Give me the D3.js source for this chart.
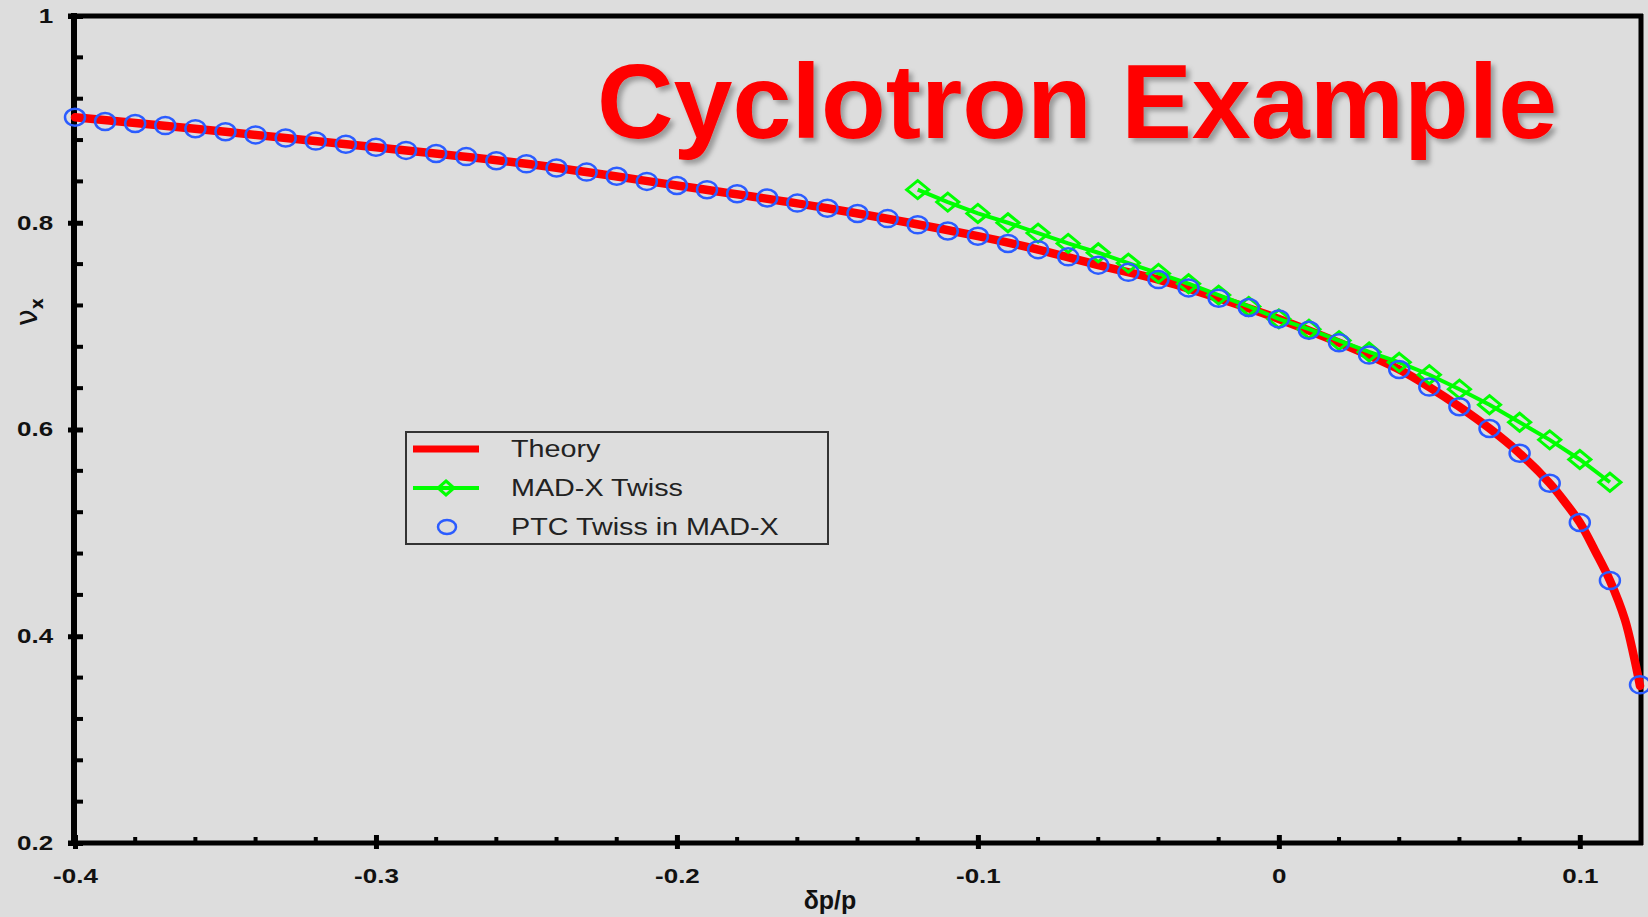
<!DOCTYPE html>
<html lang="en">
<head>
    <meta charset="UTF-8">
    <title>Cyclotron Example</title>
    <style>
        body { margin: 0; overflow: hidden; background: #dddddd; }
        svg { display: block; }
        .tick text { font-family: "Liberation Sans", Arial, sans-serif; font-weight: bold; font-size: 20px; fill: #111; }
    </style>
    <script src="https://d3js.org/d3.v7.min.js"></script>
</head>
<body>
<svg id="chart" width="1648" height="917"></svg>
<script>
        const width = 1648;
        const height = 917;

        // PTC Twiss in MAD-X (blue circles)
        const ptcDp = [-0.40, -0.39, -0.38, -0.37, -0.36, -0.35, -0.34, -0.33, -0.32, -0.31,
                       -0.30, -0.29, -0.28, -0.27, -0.26, -0.25, -0.24, -0.23, -0.22, -0.21,
                       -0.20, -0.19, -0.18, -0.17, -0.16, -0.15, -0.14, -0.13, -0.12, -0.11,
                       -0.10, -0.09, -0.08, -0.07, -0.06, -0.05, -0.04, -0.03, -0.02, -0.01,
                       0.00, 0.01, 0.02, 0.03, 0.04, 0.05, 0.06, 0.07, 0.08, 0.09,
                       0.10, 0.11, 0.12];
        const ptcNu = [0.902, 0.898, 0.896, 0.894, 0.891, 0.888, 0.885, 0.882, 0.879, 0.876,
                       0.873, 0.870, 0.867, 0.864, 0.860, 0.857, 0.853, 0.849, 0.845, 0.840,
                       0.836, 0.832, 0.828, 0.824, 0.819, 0.814, 0.809, 0.804, 0.798, 0.792,
                       0.787, 0.780, 0.774, 0.767, 0.759, 0.752, 0.745, 0.737, 0.727, 0.718,
                       0.707, 0.696, 0.684, 0.672, 0.658, 0.641, 0.622, 0.601, 0.577, 0.548,
                       0.510, 0.454, 0.353];

        // MAD-X Twiss (green diamonds)
        const madxDp = [-0.12, -0.11, -0.10, -0.09, -0.08, -0.07, -0.06, -0.05, -0.04, -0.03,
                        -0.02, -0.01, 0.00, 0.01, 0.02, 0.03, 0.04, 0.05, 0.06, 0.07,
                        0.08, 0.09, 0.10, 0.11];
        const madxNu = [0.832, 0.820, 0.809, 0.800, 0.790, 0.780, 0.771, 0.761, 0.751, 0.741,
                        0.730, 0.719, 0.707, 0.697, 0.686, 0.675, 0.665, 0.653, 0.639, 0.624,
                        0.607, 0.590, 0.571, 0.549];

        // Theory curve (red)
        const theoryDp = [-0.40, -0.35, -0.30, -0.25, -0.20, -0.15, -0.10, -0.08, -0.06, -0.04,
                          -0.02, 0.00, 0.02, 0.04, 0.05, 0.06, 0.07, 0.08, 0.09, 0.095,
                          0.10, 0.105, 0.11, 0.115, 0.118, 0.12];
        const theoryNu = [0.902, 0.888, 0.873, 0.857, 0.836, 0.814, 0.787, 0.774, 0.759, 0.745,
                          0.727, 0.707, 0.684, 0.658, 0.641, 0.622, 0.601, 0.577, 0.548, 0.530,
                          0.510, 0.483, 0.454, 0.416, 0.380, 0.352];

        const xTicks = [-0.4, -0.3, -0.2, -0.1, 0, 0.1];
        const yTicks = [0.2, 0.4, 0.6, 0.8, 1];
        const legendLabels = ["Theory", "MAD-X Twiss", "PTC Twiss in MAD-X"];

        const svg = d3.select("#chart");
        const x = d3.scaleLinear().domain([-0.4, 0.12]).range([75, 1640]);
        const y = d3.scaleLinear().domain([0.2, 1]).range([843, 16]);
        const fmt = d => (d === 0 || d === 1) ? String(d) : d3.format(".1f")(d).replace("−", "-");

        const defs = svg.append("defs");
        defs.append("filter").attr("id", "shadow")
            .attr("x", "-5%").attr("y", "-10%").attr("width", "110%").attr("height", "130%")
            .append("feDropShadow")
            .attr("dx", 4).attr("dy", 4).attr("stdDeviation", 2.5)
            .attr("flood-color", "#000").attr("flood-opacity", 0.3);

        svg.append("rect").attr("width", width).attr("height", height).attr("fill", "#dddddd");

        // frame: top and right border
        svg.append("line").attr("x1", 68).attr("x2", 1643).attr("y1", 16).attr("y2", 16)
            .attr("stroke", "#000").attr("stroke-width", 5);
        svg.append("line").attr("x1", 1641).attr("x2", 1641).attr("y1", 14).attr("y2", 845)
            .attr("stroke", "#000").attr("stroke-width", 5);

        // minor ticks
        const xMinor = d3.range(-0.38, 0.12, 0.02).filter(v => Math.abs(v * 10 - Math.round(v * 10)) > 1e-6);
        const yMinor = d3.range(0.24, 1, 0.04).filter(v => Math.abs(v * 5 - Math.round(v * 5)) > 1e-6);

        svg.selectAll(".xminor").data(xMinor).enter().append("line")
            .attr("x1", d => x(d)).attr("x2", d => x(d))
            .attr("y1", 843).attr("y2", 837)
            .attr("stroke", "#000").attr("stroke-width", 4);
        svg.selectAll(".yminor").data(yMinor).enter().append("line")
            .attr("x1", 74).attr("x2", 83)
            .attr("y1", d => y(d)).attr("y2", d => y(d))
            .attr("stroke", "#000").attr("stroke-width", 4);

        const xAxis = svg.append("g").attr("transform", "translate(0,843)")
            .call(d3.axisBottom(x).tickValues(xTicks).tickFormat(fmt)
                .tickSizeInner(-8).tickSizeOuter(0).tickPadding(20));
        xAxis.select(".domain").attr("stroke-width", 5).attr("d", "M68,0H1643");
        xAxis.selectAll(".tick line").attr("stroke-width", 5).attr("y1", 6);
        xAxis.selectAll(".tick text").attr("dy", "1em").attr("transform", "scale(1.3,1)");

        const yAxis = svg.append("g").attr("transform", "translate(74,0)")
            .call(d3.axisLeft(y).tickValues(yTicks).tickFormat(fmt)
                .tickSizeInner(-9).tickSizeOuter(0).tickPadding(16));
        yAxis.select(".domain").attr("stroke-width", 6).attr("d", "M0,13V846");
        yAxis.selectAll(".tick line").attr("stroke-width", 5).attr("x1", -6);
        yAxis.selectAll(".tick text").attr("transform", "scale(1.3,1)");

        // axis titles
        svg.append("text").attr("x", 830).attr("y", 909).attr("text-anchor", "middle")
            .attr("font-family", "Liberation Sans, Arial, sans-serif").attr("font-weight", "bold")
            .attr("font-size", 25).attr("fill", "#111").text("δp/p");
        const yTitle = svg.append("text").attr("transform", "translate(37,326) rotate(-90)")
            .attr("font-family", "DejaVu Sans, sans-serif").attr("font-size", 30).attr("fill", "#111");
        yTitle.append("tspan").text("ν");
        yTitle.append("tspan").attr("font-size", 17).attr("font-weight", "bold").attr("dy", 6).text("x");

        // theory line
        const theory = theoryDp.map((d, i) => [d, theoryNu[i]]);
        svg.append("path").datum(theory)
            .attr("fill", "none").attr("stroke", "#ff0000").attr("stroke-width", 8.5)
            .attr("stroke-linecap", "round")
            .attr("d", d3.line().x(d => x(d[0])).y(d => y(d[1])).curve(d3.curveCatmullRom));

        // MAD-X line + diamonds
        const madx = madxDp.map((d, i) => [d, madxNu[i]]);
        svg.append("path").datum(madx)
            .attr("fill", "none").attr("stroke", "#00ff00").attr("stroke-width", 4)
            .attr("d", d3.line().x(d => x(d[0])).y(d => y(d[1])));
        const diamond = "M0,-9L11,0L0,9L-11,0Z";
        svg.selectAll(".madx").data(madx).enter().append("path")
            .attr("class", "madx")
            .attr("transform", d => `translate(${x(d[0])},${y(d[1])})`)
            .attr("d", diamond)
            .attr("fill", "none").attr("stroke", "#00ff00").attr("stroke-width", 3);

        // PTC circles
        const ptc = ptcDp.map((d, i) => [d, ptcNu[i]]);
        svg.selectAll(".ptc").data(ptc).enter().append("ellipse")
            .attr("class", "ptc")
            .attr("cx", d => x(d[0])).attr("cy", d => y(d[1]))
            .attr("rx", 10).attr("ry", 8.5)
            .attr("fill", "none").attr("stroke", "#2b5cff").attr("stroke-width", 2.5);

        // legend
        const lg = svg.append("g").attr("transform", "translate(406,432)");
        lg.append("rect").attr("width", 422).attr("height", 112)
            .attr("fill", "#dddddd").attr("stroke", "#333").attr("stroke-width", 2);
        const rowY = [17, 56, 95];
        lg.append("line").attr("x1", 7).attr("x2", 73).attr("y1", rowY[0]).attr("y2", rowY[0])
            .attr("stroke", "#ff0000").attr("stroke-width", 7);
        lg.append("line").attr("x1", 7).attr("x2", 73).attr("y1", rowY[1]).attr("y2", rowY[1])
            .attr("stroke", "#00ff00").attr("stroke-width", 4);
        lg.append("path").attr("transform", `translate(40,${rowY[1]})`).attr("d", "M0,-7L8,0L0,7L-8,0Z")
            .attr("fill", "none").attr("stroke", "#00ff00").attr("stroke-width", 3);
        lg.append("ellipse").attr("cx", 41).attr("cy", rowY[2]).attr("rx", 9).attr("ry", 7)
            .attr("fill", "none").attr("stroke", "#2b5cff").attr("stroke-width", 2.5);
        lg.selectAll(".lt").data(legendLabels).enter().append("text")
            .attr("transform", (d, i) => `translate(105,${rowY[i] + 8}) scale(1.25,1)`)
            .attr("font-family", "Liberation Sans, Arial, sans-serif").attr("font-size", 23)
            .attr("fill", "#222").text(d => d);

        // title
        svg.append("text").attr("x", 597).attr("y", 138)
            .attr("font-family", "Liberation Sans, Arial, sans-serif").attr("font-weight", "bold")
            .attr("font-size", 106).attr("fill", "#ff0000").attr("filter", "url(#shadow)")
            .text("Cyclotron Example");
</script>
</body>
</html>
